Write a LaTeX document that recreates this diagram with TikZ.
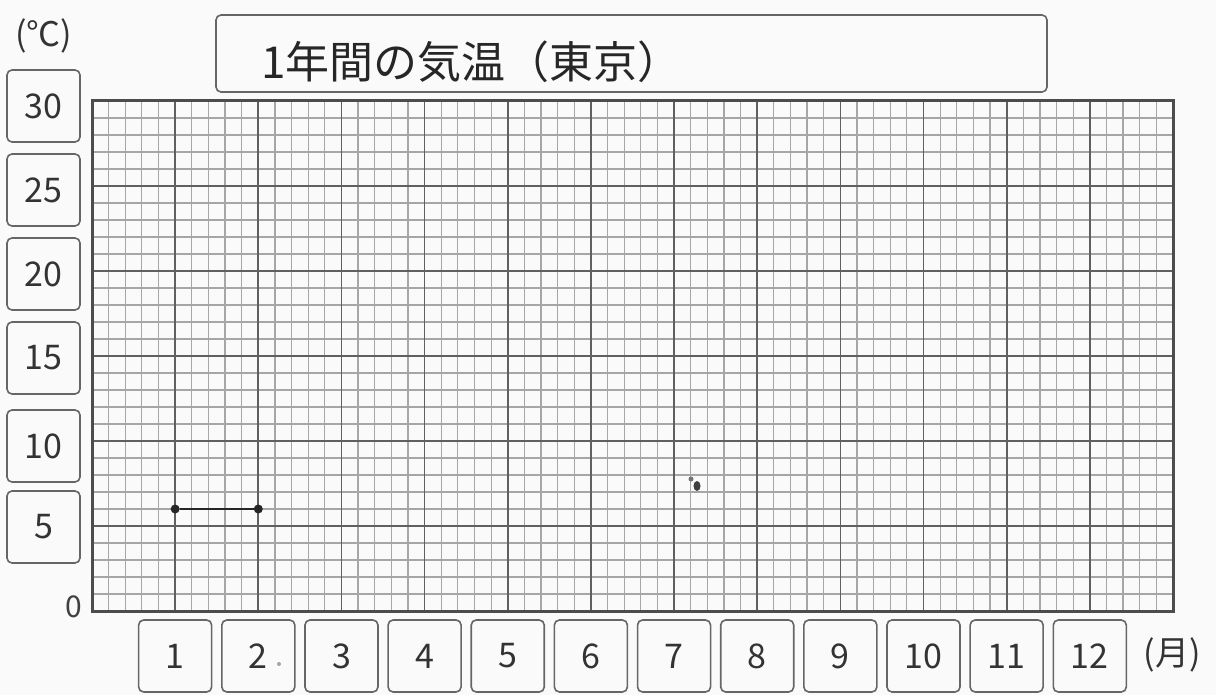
\documentclass[tikz,border=0pt]{standalone}
\usepackage{fontspec}
\setmainfont{Noto Sans CJK JP}
\begin{document}
\begin{tikzpicture}[x=1pt,y=-1pt,
  lbox/.style={draw=gray!80!black, line width=1.6pt, rounded corners=5pt, minimum width=73pt, minimum height=72pt, inner sep=0pt, font=\fontsize{34}{38}\selectfont, text=black!80},
  minorline/.style={draw=gray!70, line width=1.2pt},
  majorline/.style={draw=gray!75!black, line width=1.7pt},
  frame/.style={draw=gray!60!black, line width=3pt},
  dot/.style={circle, fill=black!85, inner sep=0pt, minimum size=9pt},
  plotline/.style={draw=black!85, line width=1.6pt}
]
\useasboundingbox (0,0) rectangle (1216,695);
\fill[white!96!gray] (0,0) rectangle (1216,695);
\def\xo{92}\def\yo{611}\def\dx{16.63}\def\dy{17}
% minor grid
\foreach \i in {1,...,64}{\draw[minorline] ({\xo+\i*\dx},101) -- ({\xo+\i*\dx},611);}
\foreach \j in {1,...,29}{\draw[minorline] (92,{\yo-\j*\dy}) -- (1173,{\yo-\j*\dy});}
% major grid
\foreach \i in {1,...,12}{\draw[majorline] ({\xo+5*\i*\dx},101) -- ({\xo+5*\i*\dx},611);}
\foreach \j in {1,...,5}{\draw[majorline] (92,{\yo-5*\j*\dy}) -- (1173,{\yo-5*\j*\dy});}
\draw[frame] (92,101) rectangle (1173,611);
% title
\node[draw=gray!80!black, line width=1.6pt, rounded corners=5pt, minimum width=831pt, minimum height=77pt, inner sep=0pt] (titlebox) at (631.5,53.5) {};
\node[anchor=west, font=\fontsize{44}{48}\selectfont, text=black!85] (title) at (258,62) {1年間の気温（東京）};
% unit labels
\node[font=\fontsize{34}{38}\selectfont, text=black!80] (unitC) at (44,36) {(℃)};
\node[font=\fontsize{34}{38}\selectfont, text=black!80] (unitM) at (1172,655) {(月)};
\node[font=\fontsize{30}{34}\selectfont, text=black!75] (zero) at (74,607) {0};
% y labels
\foreach \v/\yy in {30/106,25/190,20/274,15/358,10/446,5/527}{
  \node[lbox] (y\v) at (43.5,\yy) {\v};
}
% x labels
\foreach \m in {1,...,12}{
  \node[lbox] (m\m) at ({\xo+5*\m*\dx},656) {\m};
}
% data
\node[dot] (p1) at ({\xo+5*\dx},{\yo-6*\dy}) {};
\node[dot] (p2) at ({\xo+10*\dx},{\yo-6*\dy}) {};
\draw[plotline] (p1) -- (p2);
% smudges
\fill[black!75] (697,486) ellipse (3.5pt and 5pt);
\fill[black!55] (691,479) circle (2.5pt);
\fill[gray!70] (279,664) circle (2pt);
\end{tikzpicture}
\end{document}
